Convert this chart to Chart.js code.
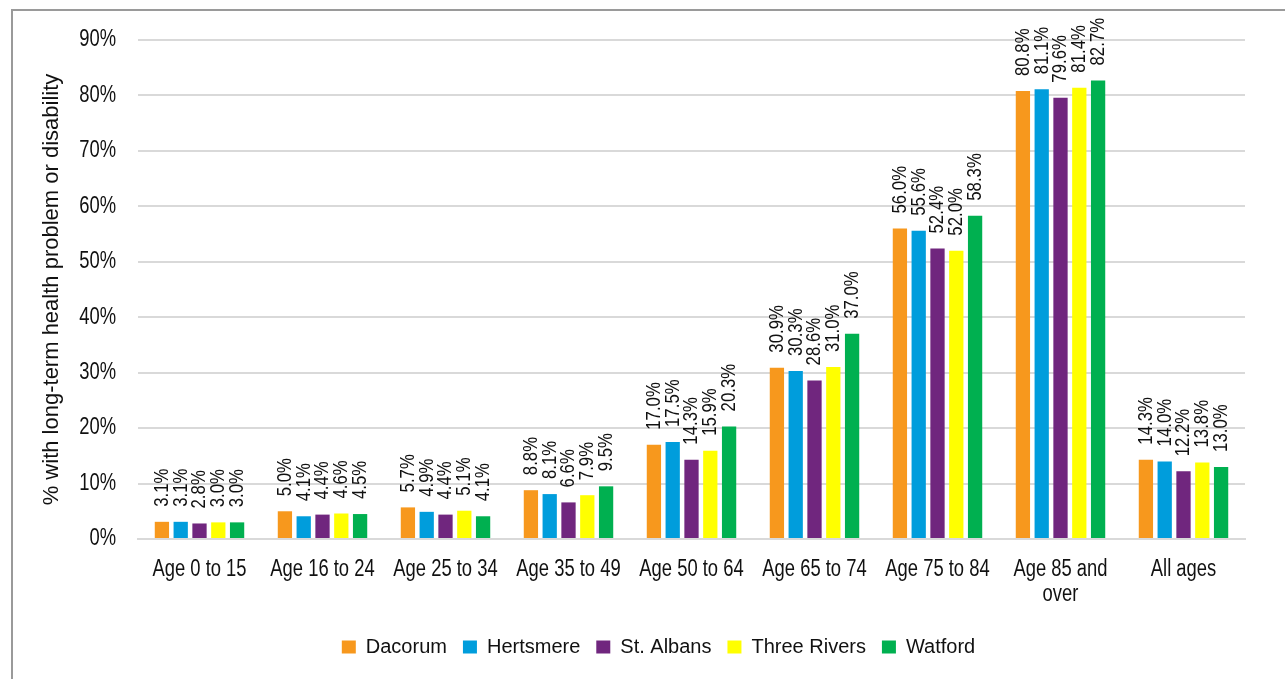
<!DOCTYPE html>
<html>
<head>
<meta charset="utf-8">
<title>Long-term health problem or disability by age</title>
<script src="https://cdn.jsdelivr.net/npm/chart.js@4.4.1/dist/chart.umd.min.js"></script>
<style>
  body { margin: 0; background: #fff; }
  #wrap { position: relative; width: 1285px; height: 679px; overflow: hidden; }
  #frame { position: absolute; left: 11px; top: 9px; width: 1400px; height: 800px;
           border-left: 2px solid #9a9a9a; border-top: 2px solid #9a9a9a; }
  #chart { position: absolute; left: 0; top: 0; }
</style>
</head>
<body>
<div id="wrap">
  <div id="frame"></div>
  <canvas id="chart" width="1285" height="679"></canvas>
</div>
<script>
// categories and series
const ageGroups = ['Age 0 to 15', 'Age 16 to 24', 'Age 25 to 34', 'Age 35 to 49', 'Age 50 to 64',
  'Age 65 to 74', 'Age 75 to 84', ['Age 85 and', 'over'], 'All ages'];
const dacorum     = [3.1, 5.0, 5.7, 8.8, 17.0, 30.9, 56.0, 80.8, 14.3];
const hertsmere   = [3.1, 4.1, 4.9, 8.1, 17.5, 30.3, 55.6, 81.1, 14.0];
const stAlbans    = [2.8, 4.4, 4.4, 6.6, 14.3, 28.6, 52.4, 79.6, 12.2];
const threeRivers = [3.0, 4.6, 5.1, 7.9, 15.9, 31.0, 52.0, 81.4, 13.8];
const watford     = [3.0, 4.5, 4.1, 9.5, 20.3, 37.0, 58.3, 82.7, 13.0];
const yTicks = { min: 0, max: 90, step: 10 };

const sans = '"Liberation Sans", Arial, sans-serif';
Chart.defaults.font.family = sans;
Chart.defaults.color = '#111';

// no narrow font installed, so squeeze the text along its own direction
const squeeze = 0.8;
function narrowText(ctx, text, x, y, angle) {
  ctx.save();
  ctx.translate(x, y);
  ctx.rotate(angle);
  ctx.scale(squeeze, 1);
  ctx.fillText(text, 0, 0);
  ctx.restore();
}

const axisText = {
  id: 'axisText',
  afterLayout(chart) {
    // legend sits a little right of centre in the original frame
    chart.legend.left += 30;
    chart.legend.right += 30;
  },
  afterDraw(chart) {
    const { ctx, chartArea, scales } = chart;
    ctx.save();
    ctx.fillStyle = '#111';
    ctx.font = '23px ' + sans;

    // y tick labels
    ctx.textAlign = 'right';
    ctx.textBaseline = 'middle';
    scales.y.ticks.forEach(t => {
      narrowText(ctx, t.value + '%', chartArea.left - 22, scales.y.getPixelForValue(t.value), 0);
    });

    // category labels
    ctx.textAlign = 'center';
    ctx.textBaseline = 'alphabetic';
    chart.data.labels.forEach((lab, i) => {
      const lines = Array.isArray(lab) ? lab : [lab];
      lines.forEach((ln, k) => {
        narrowText(ctx, ln, scales.x.getPixelForTick(i), chartArea.bottom + 37 + k * 25, 0);
      });
    });

    // rotated value labels above each bar
    ctx.font = '21px ' + sans;
    ctx.textAlign = 'left';
    ctx.textBaseline = 'middle';
    chart.data.datasets.forEach((ds, i) => {
      chart.getDatasetMeta(i).data.forEach((bar, j) => {
        narrowText(ctx, ds.data[j].toFixed(1) + '%', bar.x, bar.y - 15, -Math.PI / 2);
      });
    });
    ctx.restore();
  }
};

const mk = (label, data, color) => ({
  label, data, backgroundColor: color, borderWidth: 0,
  categoryPercentage: 0.764, barPercentage: 0.76
});

new Chart(document.getElementById('chart'), {
  type: 'bar',
  data: {
    labels: ageGroups,
    datasets: [
      mk('Dacorum', dacorum, '#F7981D'),
      mk('Hertsmere', hertsmere, '#009DDC'),
      mk('St. Albans', stAlbans, '#70267E'),
      mk('Three Rivers', threeRivers, '#FFFF00'),
      mk('Watford', watford, '#00B050')
    ]
  },
  options: {
    responsive: false,
    devicePixelRatio: 1,
    animation: false,
    layout: { padding: { top: 40, left: 12, right: 40, bottom: 12 } },
    plugins: {
      tooltip: { enabled: false },
      legend: {
        position: 'bottom',
        labels: { boxWidth: 14, boxHeight: 13, padding: 16, font: { size: 20 }, color: '#111' }
      }
    },
    scales: {
      x: {
        grid: { display: false, drawTicks: false },
        border: { color: '#d9d9d9', width: 2 },
        ticks: { display: false },
        afterFit(s) { s.height = 82; }
      },
      y: {
        min: yTicks.min, max: yTicks.max,
        grid: { color: '#d9d9d9', lineWidth: 2, drawTicks: false },
        border: { display: false },
        ticks: { display: false, stepSize: yTicks.step },
        title: {
          display: true,
          text: '% with long-term health problem or disability',
          font: { size: 22 },
          color: '#111',
          padding: { top: 27, bottom: 0 }
        },
        afterFit(s) { s.width = 126; }
      }
    }
  },
  plugins: [axisText]
});
</script>
</body>
</html>
